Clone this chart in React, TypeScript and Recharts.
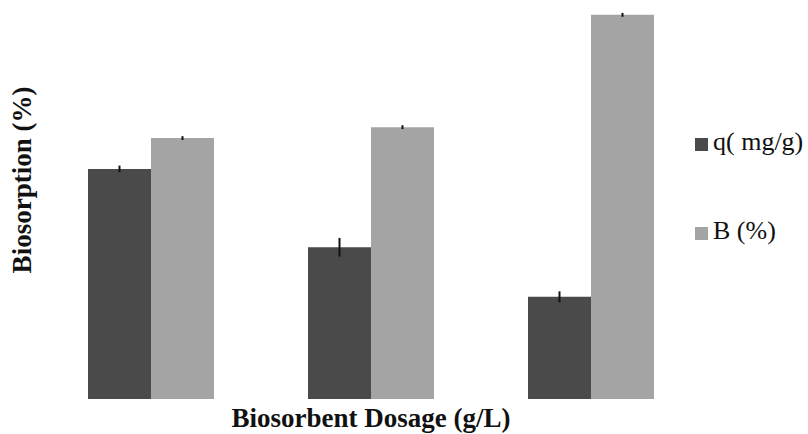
import React from "react";
import { BarChart, Bar, XAxis, YAxis, Legend, ErrorBar, Label } from "recharts";

const categories = ["Dose 1", "Dose 2", "Dose 3"];
const qValues = [59.0, 38.9, 26.2];
const qErrors = [0.85, 2.4, 1.4];
const bValues = [66.9, 69.7, 98.5];
const bErrors = [0.5, 0.5, 0.5];
const seriesNames = ["q( mg/g)", "B (%)"];

const data = categories.map((c, i) => ({
  category: c,
  q: qValues[i],
  qErr: qErrors[i],
  b: bValues[i],
  bErr: bErrors[i],
}));

const FONT = "Liberation Serif, Times New Roman, serif";

const renderLegend = (props: any) => {
  const payload = [...(props.payload || [])].sort(
    (a: any, b: any) => seriesNames.indexOf(a.value) - seriesNames.indexOf(b.value)
  );
  return (
    <div style={{ fontFamily: FONT, fontSize: 26, lineHeight: "30px", color: "#111" }}>
      {payload.map((entry: any, i: number) => (
        <div
          key={i}
          style={{ display: "flex", alignItems: "flex-start", marginBottom: i === 0 ? 59 : 0, whiteSpace: "nowrap" }}
        >
          <div style={{ width: 13, height: 13, background: entry.color, marginTop: 11, marginRight: 5 }} />
          <span style={{ fontFamily: FONT, fontSize: 26 }}>{entry.value}</span>
        </div>
      ))}
    </div>
  );
};

export default function App() {
  return (
    <div
      style={{
        position: "absolute",
        left: 0,
        top: 0,
        width: 808,
        height: 434,
        background: "#fff",
        fontFamily: FONT,
      }}
    >
      <BarChart
        width={808}
        height={434}
        data={data}
        margin={{ top: 9, right: 107, bottom: 0, left: 0 }}
        barGap={0}
        barSize={63}
      >
        <XAxis dataKey="category" tick={false} axisLine={false} tickLine={false} height={35}>
          <Label
            content={(p: any) => {
              const vb = p.viewBox;
              return (
                <text
                  x={vb.x + vb.width / 2}
                  y={vb.y + 28}
                  textAnchor="middle"
                  fontFamily={FONT}
                  fontWeight="bold"
                  fontSize={27}
                  fill="#111"
                >
                  Biosorbent Dosage (g/L)
                </text>
              );
            }}
          />
        </XAxis>
        <YAxis domain={[0, 100]} tick={false} axisLine={false} tickLine={false} width={41}>
          <Label
            content={(p: any) => {
              const vb = p.viewBox;
              const x = vb.x + 31;
              const y = vb.y + vb.height / 2 - 24;
              return (
                <text
                  x={x}
                  y={y}
                  transform={`rotate(-90, ${x}, ${y})`}
                  textAnchor="middle"
                  fontFamily={FONT}
                  fontWeight="bold"
                  fontSize={27}
                  fill="#111"
                >
                  Biosorption (%)
                </text>
              );
            }}
          />
        </YAxis>
        <Legend
          layout="vertical"
          align="center"
          verticalAlign="middle"
          wrapperStyle={{ left: 695, top: 127, width: 113 }}
          content={renderLegend}
        />
        <Bar dataKey="q" name={seriesNames[0]} fill="#4a4a4a" isAnimationActive={false}>
          <ErrorBar dataKey="qErr" width={0} stroke="#111" strokeWidth={2} />
        </Bar>
        <Bar dataKey="b" name={seriesNames[1]} fill="#a4a4a4" isAnimationActive={false}>
          <ErrorBar dataKey="bErr" width={0} stroke="#111" strokeWidth={2} />
        </Bar>
      </BarChart>
    </div>
  );
}
